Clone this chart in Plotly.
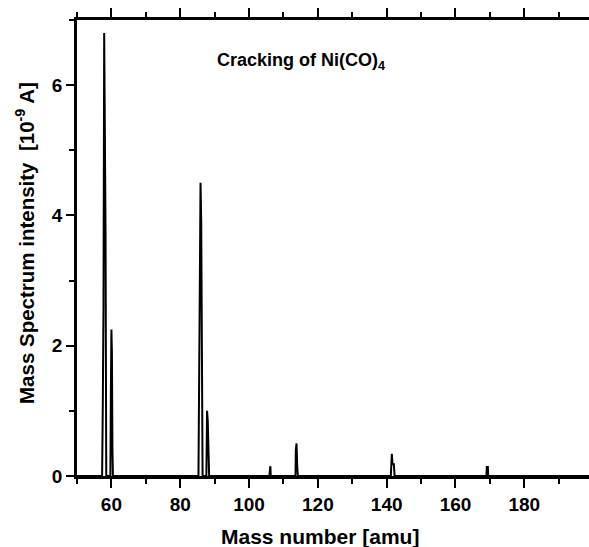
import plotly.graph_objects as go

# Mass spectrum of Ni(CO)4 cracking
mass = [50, 57.3, 57.5, 57.7, 57.9, 58.1, 58.3, 58.5,
        59.7, 59.85, 60.0, 60.15, 60.3, 60.45,
        85.3, 85.5, 85.7, 85.9, 86.1, 86.3, 86.5,
        87.6, 87.8, 88.0, 88.2, 88.4,
        105.9, 106.0, 106.2, 106.3,
        113.5, 113.6, 113.8, 114.0, 114.2,
        141.2, 141.4, 141.5, 141.7, 142.1, 142.3,
        169.0, 169.1, 169.4, 169.5, 198.8]
intensity = [0, 0, 1.1, 2.6, 6.8, 5.5, 3.7, 0,
             0, 1.3, 2.25, 1.9, 0.4, 0,
             0, 1.5, 2.8, 4.5, 3.9, 2.6, 0,
             0, 1.0, 0.85, 0.2, 0,
             0, 0.15, 0.15, 0,
             0, 0.4, 0.5, 0.15, 0,
             0, 0.3, 0.34, 0.18, 0.18, 0,
             0, 0.14, 0.14, 0, 0]

x_ticks = [60, 80, 100, 120, 140, 160, 180]
y_ticks = [0, 2, 4, 6]

W, H = 589, 547
L, R, T, B = 77, 0, 20, 71
pw, ph = W - L - R, H - T - B

def px(x):
    return (x - L) / pw

def py(y):
    return (H - B - y) / ph

fig = go.Figure()
fig.add_trace(go.Scatter(x=mass, y=intensity, mode="lines",
                         line=dict(color="black", width=2),
                         showlegend=False, hoverinfo="skip"))

tickfont = dict(family="Liberation Sans, Arial, sans-serif", size=19,
                color="black", weight="bold")

fig.update_xaxes(range=[50, 198.8], tickvals=x_ticks, ticks="outside",
                 ticklen=9, tickwidth=2, tickcolor="black",
                 showline=True, linewidth=2.5, linecolor="black",
                 mirror="ticks", showgrid=False, zeroline=False,
                 tickfont=tickfont,
                 minor=dict(dtick=10, tick0=50, ticks="outside", ticklen=5,
                            tickwidth=2, tickcolor="black", showgrid=False))
fig.update_yaxes(range=[0, 7], tickvals=y_ticks, ticks="outside",
                 ticklen=8, tickwidth=2, tickcolor="black",
                 showline=True, linewidth=2.5, linecolor="black",
                 mirror=False, showgrid=False, zeroline=False,
                 tickfont=tickfont,
                 minor=dict(dtick=1, tick0=0, ticks="outside", ticklen=5,
                            tickwidth=2, tickcolor="black", showgrid=False))

def afont(size):
    return dict(family="Liberation Sans, Arial, sans-serif", size=size,
                color="black", weight="bold")

fig.add_annotation(text="Cracking of Ni(CO)<sub>4</sub>", xref="paper", yref="paper",
                   x=px(301), y=py(61), showarrow=False, font=afont(18),
                   xanchor="center", yanchor="middle")
fig.add_annotation(text="Mass number [amu]", xref="paper", yref="paper",
                   x=px(320), y=py(536), showarrow=False, font=afont(21),
                   xanchor="center", yanchor="middle")
fig.add_annotation(text="Mass Spectrum intensity  [10<sup>-9</sup> A]",
                   xref="paper", yref="paper", x=px(25), y=py(243),
                   showarrow=False, font=afont(20.5), textangle=-90,
                   xanchor="center", yanchor="middle")

fig.update_layout(width=W, height=H, margin=dict(l=L, r=R, t=T, b=B),
                  paper_bgcolor="white", plot_bgcolor="white")
fig.write_html("out.html")
